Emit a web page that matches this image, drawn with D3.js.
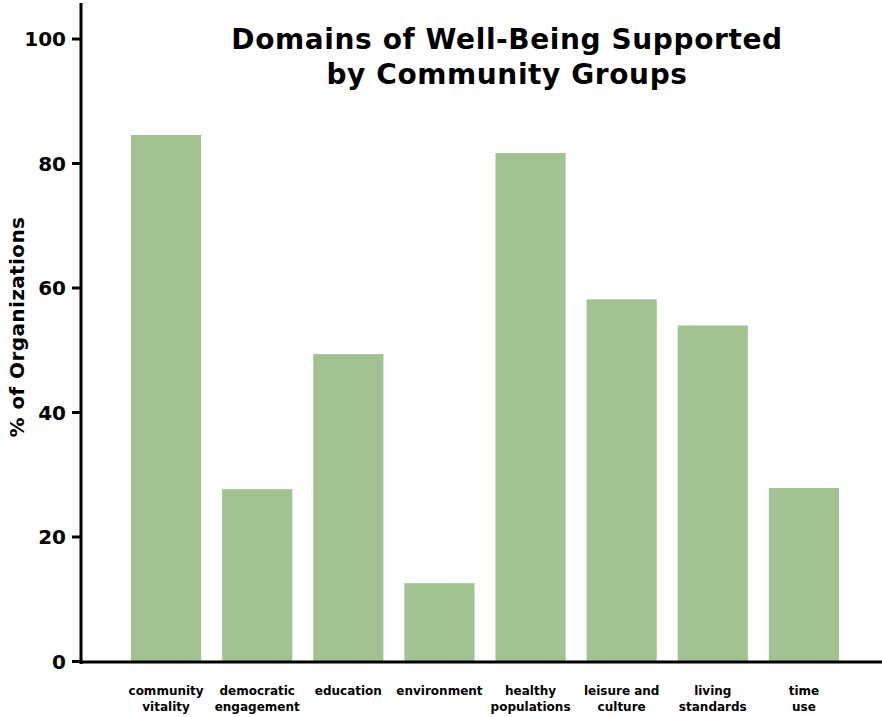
<!DOCTYPE html>
<html>
<head>
<meta charset="utf-8">
<script src="https://cdn.jsdelivr.net/npm/d3@7"></script>
<style>
  html, body { margin: 0; padding: 0; background: #fff; }
  svg { display: block; font-family: "DejaVu Sans", sans-serif; }
</style>
</head>
<body>
<svg id="chart" width="882" height="717"></svg>
<script>
// Share of organizations supporting each well-being domain (%)
const categories = [
  ["community", "vitality"],
  ["democratic", "engagement"],
  ["education"],
  ["environment"],
  ["healthy", "populations"],
  ["leisure and", "culture"],
  ["living", "standards"],
  ["time", "use"]
];
const values = [84.5, 27.6, 49.3, 12.5, 81.6, 58.1, 53.9, 27.8];
const yTicks = [0, 20, 40, 60, 80, 100];
const titleLines = ["Domains of Well-Being Supported", "by Community Groups"];
const yTitle = "% of Organizations";

const svg = d3.select("#chart");
const keys = categories.map(c => c.join(" "));

const x = d3.scaleBand()
  .domain(keys)
  .range([131, 839])
  .paddingInner(0.23)
  .paddingOuter(0);

const y = d3.scaleLinear()
  .domain([0, 100])
  .range([661, 38.5]);

// bars
svg.append("g")
  .selectAll("rect")
  .data(values)
  .join("rect")
  .attr("x", (d, i) => x(keys[i]))
  .attr("y", d => y(d))
  .attr("width", x.bandwidth())
  .attr("height", d => y(0) - y(d))
  .attr("fill", "#a2c391");

// y axis
const yAxis = svg.append("g")
  .attr("transform", "translate(81,0)")
  .call(d3.axisLeft(y).tickValues(yTicks).tickSize(9).tickPadding(6).tickSizeOuter(0));
yAxis.select(".domain").remove();
yAxis.selectAll(".tick line").attr("stroke", "#000").attr("stroke-width", 3);
yAxis.selectAll(".tick text")
  .attr("fill", "#000")
  .attr("font-family", "DejaVu Sans")
  .attr("font-size", 20)
  .attr("font-weight", 700)
  .attr("dy", "0.36em");

// axis lines
svg.append("line")
  .attr("x1", 81).attr("x2", 81)
  .attr("y1", 3).attr("y2", 664)
  .attr("stroke", "#000").attr("stroke-width", 3);
svg.append("line")
  .attr("x1", 79.5).attr("x2", 882)
  .attr("y1", 662).attr("y2", 662)
  .attr("stroke", "#000").attr("stroke-width", 3);

// x labels, one text per line
const labelLines = [];
categories.forEach((c, i) => c.forEach((t, j) => labelLines.push({ t, i, j })));
svg.append("g")
  .selectAll("text")
  .data(labelLines)
  .join("text")
  .attr("x", d => x(keys[d.i]) + x.bandwidth() / 2)
  .attr("y", d => 695 + d.j * 16)
  .attr("text-anchor", "middle")
  .attr("font-size", 12)
  .attr("font-weight", 700)
  .attr("fill", "#000")
  .text(d => d.t);

// y title
svg.append("text")
  .attr("transform", "translate(24,327) rotate(-90)")
  .attr("text-anchor", "middle")
  .attr("font-size", 20)
  .attr("font-weight", 700)
  .attr("letter-spacing", 0.4)
  .attr("fill", "#000")
  .text(yTitle);

// chart title
svg.append("g")
  .selectAll("text")
  .data(titleLines)
  .join("text")
  .attr("x", 507)
  .attr("y", (d, i) => 49 + i * 35)
  .attr("text-anchor", "middle")
  .attr("font-size", 28)
  .attr("font-weight", 700)
  .attr("letter-spacing", 0.6)
  .attr("fill", "#000")
  .text(d => d);
</script>
</body>
</html>
